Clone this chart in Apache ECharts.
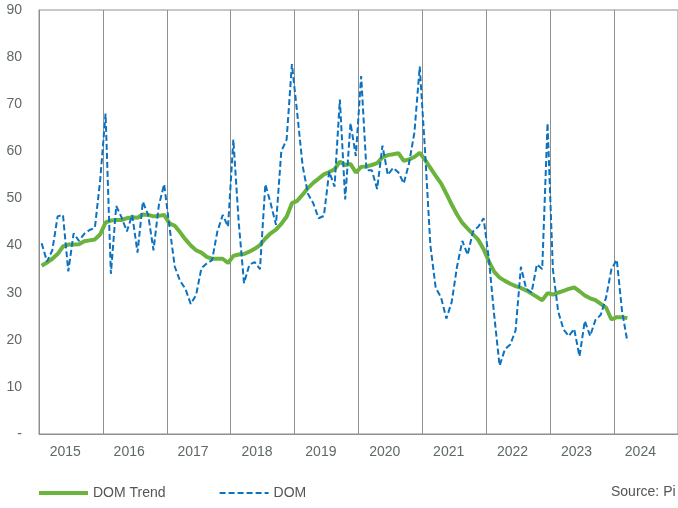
<!DOCTYPE html>
<html>
<head>
<meta charset="utf-8">
<script src="https://cdn.jsdelivr.net/npm/echarts@6/dist/echarts.min.js"></script>
<style>
  html, body { margin: 0; padding: 0; background: #fff; }
  #chart { width: 678px; height: 508px; }
</style>
</head>
<body>
<div id="chart"></div>
<script>
// years on the x axis, one category per month
const years = [2015, 2016, 2017, 2018, 2019, 2020, 2021, 2022, 2023, 2024]
const months = []
years.forEach(y => {
  for (let m = 1; m <= 12; m++) months.push(y + '-' + String(m).padStart(2, '0'))
})

// DOM trend (green), monthly, Jan 2015 - Mar 2024
const domTrend = [
  35.7, 36.4, 37.2, 38.2, 39.8, 40.2, 40.2, 40.3, 40.9, 41.1, 41.3, 42.4, // 2015
  44.9, 45.3, 45.4, 45.4, 45.8, 46.0, 45.9, 46.6, 46.5, 46.2, 46.3, 46.5, // 2016
  44.7, 44.2, 42.8, 41.3, 40.0, 39.0, 38.5, 37.6, 37.2, 37.2, 37.2, 36.3, // 2017
  37.8, 38.1, 38.2, 38.7, 39.3, 40.1, 41.5, 42.6, 43.4, 44.6, 46.1, 49.0, // 2018
  49.5, 50.8, 52.2, 53.3, 54.2, 55.1, 55.6, 56.2, 57.8, 57.1, 57.3, 55.5, // 2019
  56.7, 56.8, 57.1, 57.5, 58.7, 59.2, 59.4, 59.6, 58.0, 58.3, 58.8, 59.7, // 2020
  58.2, 56.5, 54.8, 53.2, 51.0, 48.7, 46.6, 44.8, 43.6, 42.4, 41.2, 39.2, // 2021
  36.6, 34.4, 33.2, 32.5, 31.9, 31.4, 31.0, 30.5, 29.8, 29.1, 28.4, 29.9, // 2022
  29.6, 30.0, 30.4, 30.8, 31.1, 30.3, 29.4, 28.8, 28.4, 27.6, 26.8, 24.3, // 2023
  24.8, 24.8, 24.6                                                        // 2024
]

// DOM (blue dashed), monthly, Jan 2015 - Mar 2024
const dom = [
  40.5, 36.6, 39.0, 46.2, 46.5, 34.5, 42.6, 41.0, 42.5, 43.3, 43.8, 54.0, // 2015
  68.0, 34.0, 48.4, 46.0, 43.0, 46.5, 38.5, 49.3, 46.5, 39.0, 48.5, 53.0, // 2016
  44.0, 35.5, 32.5, 30.8, 27.6, 29.5, 35.2, 36.2, 36.9, 43.0, 46.5, 44.0, // 2017
  62.5, 45.0, 32.0, 35.9, 36.5, 35.0, 53.0, 49.0, 44.4, 60.0, 62.5, 78.5, // 2018
  68.0, 57.0, 51.0, 49.0, 45.8, 46.3, 55.7, 52.5, 71.0, 49.8, 66.0, 59.0, // 2019
  76.0, 56.0, 56.0, 52.0, 61.2, 55.0, 56.5, 55.5, 53.2, 57.5, 64.0, 78.0, // 2020
  60.0, 40.0, 31.0, 29.0, 24.5, 28.0, 35.5, 41.0, 38.0, 43.0, 44.0, 45.8, // 2021
  37.0, 25.0, 14.5, 18.0, 19.0, 22.0, 35.5, 30.8, 30.0, 36.0, 35.0, 66.0, // 2022
  35.0, 26.0, 22.2, 20.8, 22.3, 16.5, 24.0, 20.8, 24.2, 25.3, 29.0, 35.0, // 2023
  37.0, 26.0, 19.6                                                        // 2024
]

const yTicks = [0, 10, 20, 30, 40, 50, 60, 70, 80, 90]

const labelColor = '#5f6769'
const gridColor = '#8f8f8f'
const green = '#6cb33e'
const blue = '#0a72c0'

const chart = echarts.init(document.getElementById('chart'))

chart.setOption({
  animation: false,
  textStyle: { fontFamily: 'Liberation Sans, Arial, sans-serif' },
  grid: {
    left: 39,
    right: -2,
    top: 10,
    bottom: 74,
    show: true,
    borderColor: gridColor,
    borderWidth: 1,
  },
  legend: {
    left: 37,
    top: 486,
    padding: 0,
    itemWidth: 49,
    itemHeight: 14,
    itemGap: 53,
    // hide the marker dot, keep only the line
    itemStyle: { opacity: 0, borderWidth: 0 },
    textStyle: { color: '#555', fontSize: 14 },
    data: [
      { name: 'DOM Trend', lineStyle: { width: 4, color: green } },
      { name: 'DOM', lineStyle: { width: 2, color: blue, type: [6, 3] } },
    ],
  },
  xAxis: {
    type: 'category',
    data: months,
    boundaryGap: true,
    axisLine: { lineStyle: { color: gridColor, width: 1 } },
    axisTick: { show: false },
    axisLabel: {
      interval: (i) => i % 12 === 5,
      formatter: (v) => v.slice(0, 4),
      color: labelColor,
      fontSize: 14,
      margin: 11,
      padding: [0, 6, 0, 0],
    },
    splitLine: {
      show: true,
      interval: (i) => i % 12 === 0,
      lineStyle: { color: gridColor, width: 1 },
    },
  },
  yAxis: {
    type: 'value',
    min: yTicks[0],
    max: yTicks[yTicks.length - 1],
    interval: 10,
    axisLine: { show: true, lineStyle: { color: gridColor, width: 1 } },
    axisTick: { show: false },
    splitLine: { show: false },
    axisLabel: {
      color: labelColor,
      fontSize: 14,
      margin: 17,
      padding: [5, 0, 0, 0],
      formatter: (v) => (v === 0 ? '-' : String(v)),
    },
  },
  series: [
    {
      name: 'DOM Trend',
      type: 'line',
      data: domTrend,
      showSymbol: false,
      symbol: 'none',
      lineStyle: { color: green, width: 4 },
      itemStyle: { color: green },
    },
    {
      name: 'DOM',
      type: 'line',
      data: dom,
      showSymbol: false,
      symbol: 'none',
      lineStyle: { color: blue, width: 2, type: [6, 3] },
      itemStyle: { color: blue },
    },
  ],
  graphic: [
    {
      type: 'text',
      left: 611,
      top: 485,
      style: { text: 'Source: Pi', fill: '#555', font: '14px Liberation Sans, Arial, sans-serif' },
    },
  ],
})
</script>
</body>
</html>
